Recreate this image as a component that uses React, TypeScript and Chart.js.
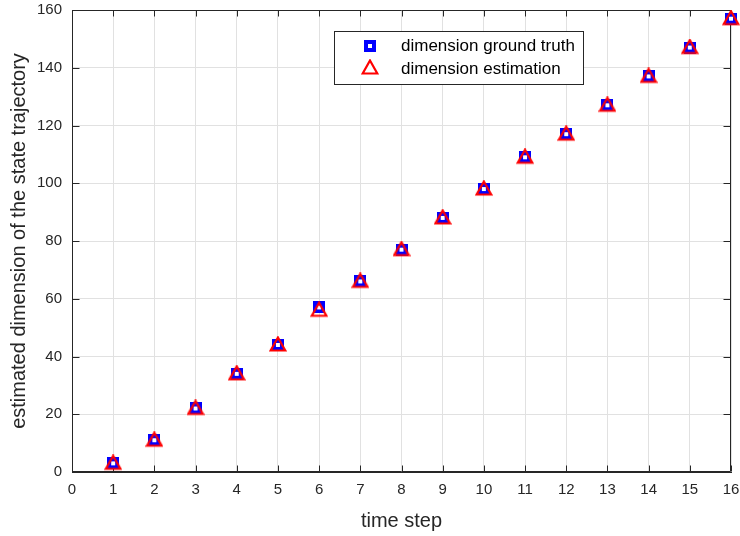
import React, { useEffect, useRef } from "react";
import { Chart, registerables } from "chart.js";

Chart.register(...registerables);

const timeSteps = [1, 2, 3, 4, 5, 6, 7, 8, 9, 10, 11, 12, 13, 14, 15, 16];
const groundTruth = [3, 11, 22, 34, 44, 57, 66, 77, 88, 98, 109, 117, 127, 137, 147, 157];
const estimation = [3, 11, 22, 34, 44, 56, 66, 77, 88, 98, 109, 117, 127, 137, 147, 157];
const xTickValues = [0, 1, 2, 3, 4, 5, 6, 7, 8, 9, 10, 11, 12, 13, 14, 15, 16];
const yTickValues = [0, 20, 40, 60, 80, 100, 120, 140, 160];
const seriesLabels = ["dimension ground truth", "dimension estimation"];
const xTitle = "time step";
const yTitle = "estimated dimension of the state trajectory";

const FONT = "'Liberation Sans', Arial, Helvetica, sans-serif";
const AXIS_COLOR = "#262626";
const GRID_COLOR = "#e1e1e1";

function makeSquare(): HTMLCanvasElement {
  const c = document.createElement("canvas");
  c.width = 12;
  c.height = 12;
  const g = c.getContext("2d")!;
  g.fillStyle = "#0000ff";
  g.fillRect(0, 0, 12, 12);
  g.fillStyle = "#ffffff";
  g.fillRect(4, 4, 4, 4);
  return c;
}

function makeTriangle(): HTMLCanvasElement {
  const c = document.createElement("canvas");
  c.width = 18;
  c.height = 18;
  const g = c.getContext("2d")!;
  g.strokeStyle = "#ff0000";
  g.lineWidth = 2.2;
  g.lineJoin = "miter";
  g.beginPath();
  g.moveTo(9, 1.5);
  g.lineTo(16.3, 14.5);
  g.lineTo(1.7, 14.5);
  g.closePath();
  g.stroke();
  return c;
}

export default function App() {
  const ref = useRef<HTMLCanvasElement | null>(null);

  useEffect(() => {
    const canvas = ref.current;
    if (!canvas) return;
    const sq = makeSquare();
    const tri = makeTriangle();

    const framePlugin = {
      id: "matlabFrame",
      beforeDatasetsDraw(chart: any) {
        const { ctx, chartArea } = chart;
        const { left, right, top, bottom } = chartArea;
        const L = Math.round(left) + 0.5;
        const R = Math.round(right) - 0.5;
        const T = Math.round(top) + 0.5;
        const B = Math.round(bottom) - 0.5;
        ctx.save();
        ctx.strokeStyle = AXIS_COLOR;
        ctx.lineWidth = 1;
        ctx.beginPath();
        ctx.moveTo(L, T);
        ctx.lineTo(R, T);
        ctx.lineTo(R, B);
        ctx.lineTo(L, B);
        ctx.closePath();
        const xs = chart.scales.x;
        const ys = chart.scales.y;
        xTickValues.forEach((v) => {
          const px = Math.round(xs.getPixelForValue(v)) + 0.5;
          ctx.moveTo(px, B);
          ctx.lineTo(px, B - 6);
          ctx.moveTo(px, T);
          ctx.lineTo(px, T + 6);
        });
        yTickValues.forEach((v) => {
          const py = Math.round(ys.getPixelForValue(v)) + 0.5;
          ctx.moveTo(L, py);
          ctx.lineTo(L + 7, py);
          ctx.moveTo(R, py);
          ctx.lineTo(R - 7, py);
        });
        ctx.stroke();
        ctx.restore();
      },
      afterDraw(chart: any) {
        const { ctx } = chart;
        ctx.save();
        const bx = 334.5, by = 31.5, bw = 249, bh = 53;
        ctx.fillStyle = "#ffffff";
        ctx.fillRect(bx, by, bw, bh);
        ctx.strokeStyle = AXIS_COLOR;
        ctx.lineWidth = 1;
        ctx.strokeRect(bx, by, bw, bh);
        ctx.drawImage(sq, 370 - 6, 46 - 6);
        ctx.drawImage(tri, 370 - 9, 68 - 9);
        ctx.fillStyle = "#000000";
        ctx.font = `17px ${FONT}`;
        ctx.textBaseline = "middle";
        ctx.textAlign = "left";
        ctx.fillText(seriesLabels[0], 401, 46);
        ctx.fillText(seriesLabels[1], 401, 69);
        ctx.restore();
      },
    };

    const chart = new Chart(canvas, {
      type: "scatter",
      data: {
        datasets: [
          {
            label: seriesLabels[0],
            data: timeSteps.map((t, i) => ({ x: t, y: groundTruth[i] })),
            pointStyle: sq as any,
            order: 1,
            clip: false as any,
          },
          {
            label: seriesLabels[1],
            data: timeSteps.map((t, i) => ({ x: t, y: estimation[i] })),
            pointStyle: tri as any,
            order: 0,
            clip: false as any,
          },
        ],
      },
      options: {
        animation: false,
        responsive: false,
        devicePixelRatio: 1,
        layout: { padding: { top: 10, right: 9, left: 0, bottom: 0 } },
        plugins: {
          legend: { display: false },
          tooltip: { enabled: false },
        },
        scales: {
          x: {
            type: "linear",
            min: 0,
            max: 16,
            afterBuildTicks: (scale: any) => {
              scale.ticks = xTickValues.map((v) => ({ value: v }));
            },
            afterFit: (scale: any) => {
              scale.height = 64;
              scale.paddingLeft = 0;
              scale.paddingRight = 0;
            },
            ticks: {
              color: AXIS_COLOR,
              font: { family: FONT, size: 15 },
              padding: 9,
              maxRotation: 0,
              autoSkip: false,
            },
            grid: { color: GRID_COLOR, drawTicks: false, lineWidth: 1 },
            border: { color: AXIS_COLOR, width: 1 },
            title: {
              display: true,
              text: xTitle,
              color: AXIS_COLOR,
              font: { family: FONT, size: 20 },
              padding: { top: 0, bottom: 3 },
            },
          },
          y: {
            type: "linear",
            min: 0,
            max: 160,
            afterBuildTicks: (scale: any) => {
              scale.ticks = yTickValues.map((v) => ({ value: v }));
            },
            afterFit: (scale: any) => {
              scale.width = 72;
              scale.paddingTop = 0;
              scale.paddingBottom = 0;
            },
            ticks: {
              color: AXIS_COLOR,
              font: { family: FONT, size: 15 },
              padding: 10,
              autoSkip: false,
            },
            grid: { color: GRID_COLOR, drawTicks: false, lineWidth: 1 },
            border: { color: AXIS_COLOR, width: 1 },
            title: {
              display: true,
              text: yTitle,
              color: AXIS_COLOR,
              font: { family: FONT, size: 20 },
              padding: { top: 7, bottom: 0 },
            },
          },
        },
      },
      plugins: [framePlugin],
    });

    return () => chart.destroy();
  }, []);

  return (
    <div style={{ position: "fixed", left: 0, top: 0, width: 740, height: 536, background: "#ffffff" }}>
      <canvas ref={ref} width={740} height={536} style={{ display: "block" }} />
    </div>
  );
}
